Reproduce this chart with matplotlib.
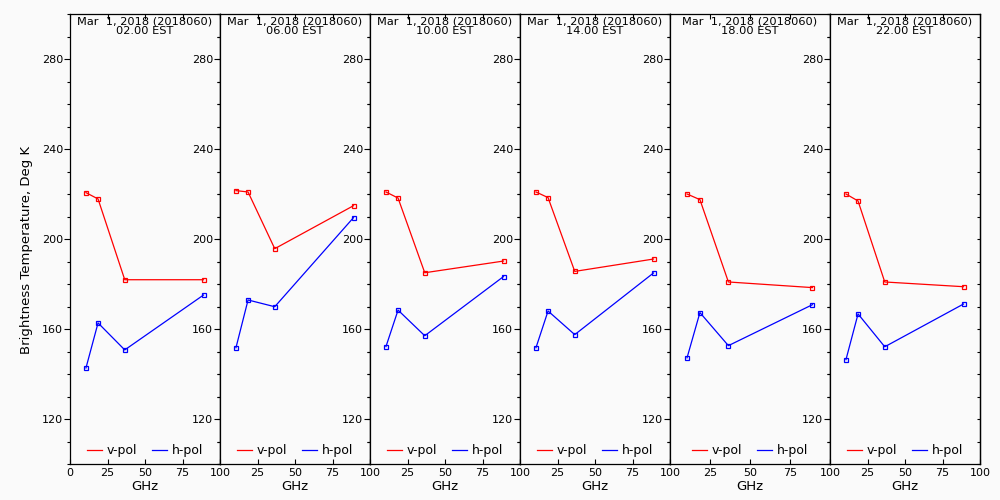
import matplotlib.pyplot as plt
from matplotlib.lines import Line2D

# frequencies (GHz) and brightness temperatures
freq = [10.65, 18.7, 36.5, 89.0]
hours = ['02.00 EST', '06.00 EST', '10.00 EST', '14.00 EST', '18.00 EST', '22.00 EST']
vpol = [
    [220.6, 217.8, 181.9, 181.9],
    [221.5, 220.9, 195.7, 214.8],
    [220.9, 218.2, 185.0, 190.2],
    [220.9, 218.4, 185.6, 191.1],
    [220.0, 217.5, 180.9, 178.4],
    [220.0, 216.9, 180.9, 178.8],
]
hpol = [
    [142.7, 162.7, 150.7, 175.1],
    [151.7, 172.9, 169.9, 209.5],
    [152.2, 168.4, 157.0, 183.3],
    [151.7, 168.0, 157.5, 184.9],
    [147.2, 167.3, 152.6, 170.8],
    [146.4, 166.7, 152.1, 171.1],
]
date_line = 'Mar  1, 2018 (2018060)'
xticks = [0, 25, 50, 75, 100]
yticks = [120, 160, 200, 240, 280]

bg = '#fafafa'
fig = plt.figure(figsize=(10, 5), dpi=100, facecolor=bg)

# panel edges in pixels (panel 5 is a bit wider in the original)
edges = [70, 220, 370, 520, 670, 830, 980]
top_px, bot_px = 14, 464

for i in range(6):
    l = edges[i] / 1000
    w = (edges[i + 1] - edges[i]) / 1000
    ax = fig.add_axes([l, (500 - bot_px) / 500, w, (bot_px - top_px) / 500])
    ax.set_facecolor(bg)
    ax.plot(freq, vpol[i], color='red', lw=0.9, marker='s', ms=3.2,
            mfc='none', mew=0.9)
    ax.plot(freq, hpol[i], color='blue', lw=0.9, marker='s', ms=3.2,
            mfc='none', mew=0.9)
    ax.set_xlim(0, 100)
    ax.set_ylim(100, 300)

    ax.set_xticks(xticks)
    if i == 0:
        ax.set_xticklabels([str(t) for t in xticks])
    else:
        ax.set_xticklabels([''] + [str(t) for t in xticks[1:]])
    ax.tick_params(axis='x', which='major', direction='in', top=True,
                   length=3.5, width=0.8, labelsize=8, pad=3)
    ax.set_yticks(yticks)
    ax.set_yticks(range(100, 301, 10), minor=True)
    ax.tick_params(axis='y', which='major', direction='out', length=4,
                   width=0.8, labelsize=8, pad=1)
    ax.tick_params(axis='y', which='minor', direction='out', length=2,
                   width=0.8)
    # right side ticks go inward
    ax2 = ax.secondary_yaxis('right')
    ax2.set_yticks(yticks)
    ax2.set_yticks(range(100, 301, 10), minor=True)
    ax2.tick_params(which='both', direction='in', length=2.2, width=0.8,
                    labelright=False)
    ax2.spines['right'].set_linewidth(0.9)
    for s in ax.spines.values():
        s.set_linewidth(0.9)

    ax.set_xlabel('GHz', fontsize=9.5, labelpad=1)
    ax.text(0.5, 0.995, date_line + '\n' + hours[i], transform=ax.transAxes,
            ha='center', va='top', fontsize=8.2, linespacing=1.0)

    handles = [Line2D([], [], color='red', lw=0.9),
               Line2D([], [], color='blue', lw=0.9)]
    ax.legend(handles, ['v-pol', 'h-pol'], ncol=2, loc='lower center',
              bbox_to_anchor=(0.5, -0.01), frameon=False, fontsize=9,
              handlelength=1.2, handletextpad=0.4, columnspacing=1.2)

fig.text(0.027, 0.5, 'Brightness Temperature, Deg K', rotation=90,
         ha='center', va='center', fontsize=9.5)

fig.savefig('out.png', dpi=100, facecolor=bg)
